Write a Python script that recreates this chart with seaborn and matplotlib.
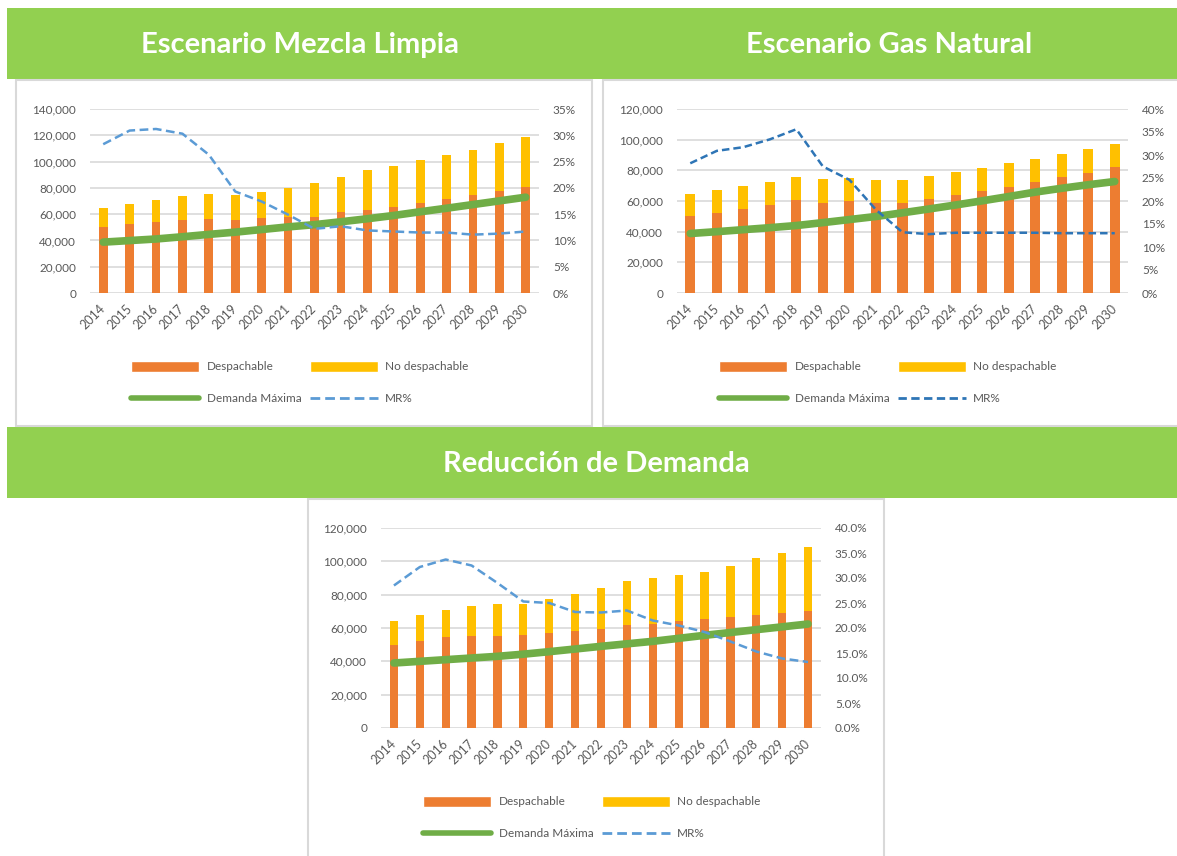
import numpy as np
import pandas as pd
import seaborn as sns
import matplotlib.pyplot as plt
from matplotlib.patches import Rectangle, Patch
from matplotlib.lines import Line2D
from matplotlib.ticker import FuncFormatter, MultipleLocator

years = [str(y) for y in range(2014, 2031)]

# Escenario Mezcla Limpia
ml_desp = [49900, 52400, 54400, 55900, 56500, 55200, 56700, 57700, 58200,
           61300, 63300, 65800, 68600, 71400, 74400, 77500, 81000]
ml_total = [64300, 67600, 70600, 73900, 75400, 74700, 77000, 79700, 83800,
            88600, 93700, 97000, 101300, 104800, 108900, 113900, 119000]
ml_dem = [38700, 39900, 41100, 42800, 44600, 46300, 48300, 50300, 52000,
          54200, 56500, 59000, 61800, 64500, 67300, 70100, 72900]
ml_mr = [28.3, 30.9, 31.2, 30.3, 26.3, 19.3, 17.4, 14.9, 12.2,
         12.7, 11.9, 11.7, 11.5, 11.5, 11.1, 11.3, 11.7]

# Escenario Gas Natural
gn_desp = [49900, 52500, 54900, 57700, 60500, 59000, 60100, 58800, 59000,
           61400, 64200, 66600, 69400, 72500, 75500, 78500, 82000]
gn_total = [64400, 67500, 69800, 72500, 75700, 74200, 75300, 73800, 74000,
            76400, 79000, 81600, 84600, 87400, 90500, 93700, 97000]
gn_dem = [38800, 40000, 41300, 42600, 44000, 45900, 47900, 49900, 52300,
          54800, 57400, 60100, 62900, 65800, 68300, 70600, 72700]
gn_mr = [28.2, 30.9, 31.7, 33.4, 35.6, 27.5, 24.6, 18.1, 13.2,
         12.8, 13.1, 13.1, 13.1, 13.1, 13.0, 13.0, 13.0]

# Reducción de Demanda
rd_desp = [50000, 52400, 54400, 55400, 55200, 55600, 57000, 58000, 59600,
           61600, 62400, 64000, 65200, 66400, 67600, 68800, 70400]
rd_total = [64400, 67600, 70800, 73200, 74400, 74400, 77400, 80200, 84000,
            88200, 90000, 91800, 93800, 97400, 101800, 104800, 108400]
rd_dem = [39000, 40000, 41000, 42000, 43000, 44300, 45800, 47400, 49000,
          50500, 52000, 53800, 55600, 57300, 59000, 60700, 62400]
rd_mr = [28.5, 32.2, 33.7, 32.5, 29.0, 25.3, 25.0, 23.2, 23.1,
         23.5, 21.5, 20.5, 19.2, 17.3, 15.3, 13.9, 13.2]

titles = ["Escenario Mezcla Limpia", "Escenario Gas Natural", "Reducción de Demanda"]
labels = ["Despachable", "No despachable", "Demanda Máxima", "MR%"]

ORANGE = "#ED7D31"
YELLOW = "#FFC000"
GREEN = "#70AD47"
BANNER = "#92D050"
GRID = "#D9D9D9"
TXT = "#595959"

sns.set_theme(style="white")
plt.rcParams["font.family"] = ["Lato", "DejaVu Sans"]

W, H = 1177, 856
fig = plt.figure(figsize=(W / 100, H / 100), dpi=100)


def rect(x0, y0, x1, y1, **kw):
    fig.patches.append(Rectangle((x0 / W, 1 - y1 / H), (x1 - x0) / W, (y1 - y0) / H,
                                 transform=fig.transFigure, zorder=-10, **kw))


# banners and chart boxes
rect(7, 8, 1177, 79, facecolor=BANNER, edgecolor="none")
rect(7, 427, 1177, 498, facecolor=BANNER, edgecolor="none")
rect(16, 80, 592, 426, facecolor="white", edgecolor=GRID, linewidth=1.5)
rect(603, 80, 1180, 426, facecolor="white", edgecolor=GRID, linewidth=1.5)
rect(308, 499, 884, 860, facecolor="white", edgecolor=GRID, linewidth=1.5)

fig.text(300 / W, 1 - 45 / H, titles[0], color="white", fontsize=21,
         fontweight="bold", ha="center", va="center")
fig.text(889 / W, 1 - 45 / H, titles[1], color="white", fontsize=21,
         fontweight="bold", ha="center", va="center")
fig.text(596 / W, 1 - 464 / H, titles[2], color="white", fontsize=21,
         fontweight="bold", ha="center", va="center")


def panel(box, desp, total, dem, mr, ymax, rmax, bw, mr_color, pct_fmt, legend_xy, dash):
    x0, y0, x1, y1 = box
    ax = fig.add_axes([x0 / W, 1 - y1 / H, (x1 - x0) / W, (y1 - y0) / H])
    ax.patch.set_alpha(0)
    df = pd.DataFrame({"year": years, "desp": desp, "total": total, "dem": dem, "mr": mr})
    pos = np.arange(len(years))

    sns.barplot(data=df, x="year", y="total", color=YELLOW, saturation=1,
                width=bw, linewidth=0, ax=ax, zorder=2)
    sns.barplot(data=df, x="year", y="desp", color=ORANGE, saturation=1,
                width=bw, linewidth=0, ax=ax, zorder=3)
    sns.lineplot(x=pos, y=df["dem"], color=GREEN, linewidth=5.5,
                 solid_capstyle="round", ax=ax, zorder=4)

    ax.set_xlim(-0.5, len(years) - 0.5)
    ax.set_ylim(0, ymax)
    ax.yaxis.set_major_locator(MultipleLocator(20000))
    ax.yaxis.set_major_formatter(FuncFormatter(lambda v, p: f"{int(v):,}"))
    ax.grid(axis="y", color=GRID, linewidth=1.2, zorder=0)
    ax.set_axisbelow(True)
    for s in ax.spines.values():
        s.set_visible(False)
    ax.set_xlabel("")
    ax.set_ylabel("")
    ax.set_xticks(pos)
    ax.set_xticklabels(years, rotation=45, ha="right", va="center",
                       rotation_mode="anchor")
    ax.tick_params(axis="x", length=0, pad=10, labelsize=9, labelcolor=TXT)
    ax.tick_params(axis="y", length=0, pad=10, labelsize=8.5, labelcolor=TXT)

    ax2 = ax.twinx()
    sns.lineplot(x=pos, y=df["mr"], color=mr_color, linewidth=1.8,
                 linestyle=(0, dash), ax=ax2)
    ax2.set_ylim(0, rmax)
    ax2.yaxis.set_major_locator(MultipleLocator(5))
    ax2.yaxis.set_major_formatter(FuncFormatter(lambda v, p: pct_fmt.format(v)))
    ax2.tick_params(axis="y", length=0, pad=10, labelsize=8.5, labelcolor=TXT)
    ax2.set_ylabel("")
    ax2.grid(False)
    for s in ax2.spines.values():
        s.set_visible(False)

    handles = [Patch(facecolor=ORANGE),
               Line2D([], [], color=GREEN, linewidth=4),
               Patch(facecolor=YELLOW),
               Line2D([], [], color=mr_color, linewidth=2, linestyle=(0, dash))]
    lab = [labels[0], labels[2], labels[1], labels[3]]
    fig.legend(handles, lab, loc="upper left",
               bbox_to_anchor=(legend_xy[0] / W, 1 - legend_xy[1] / H),
               ncol=2, frameon=False, fontsize=8.5, labelcolor=TXT,
               handlelength=5.8, handleheight=1.0, handletextpad=0.6,
               columnspacing=0.7, labelspacing=1.75, borderpad=0, borderaxespad=0)


panel((90, 109, 539, 293), ml_desp, ml_total, ml_dem, ml_mr, 140000, 35, 0.33,
      "#5B9BD5", "{:.0f}%", (131, 361), (3.5, 1.8))
panel((677, 109, 1128, 293), gn_desp, gn_total, gn_dem, gn_mr, 120000, 40, 0.38,
      "#2E75B6", "{:.0f}%", (719, 361), (3.0, 1.6))
panel((381, 528, 821, 728), rd_desp, rd_total, rd_dem, rd_mr, 120000, 40, 0.32,
      "#5B9BD5", "{:.1f}%", (423, 796), (3.5, 1.8))

fig.savefig("out.png", dpi=100, facecolor="white")
